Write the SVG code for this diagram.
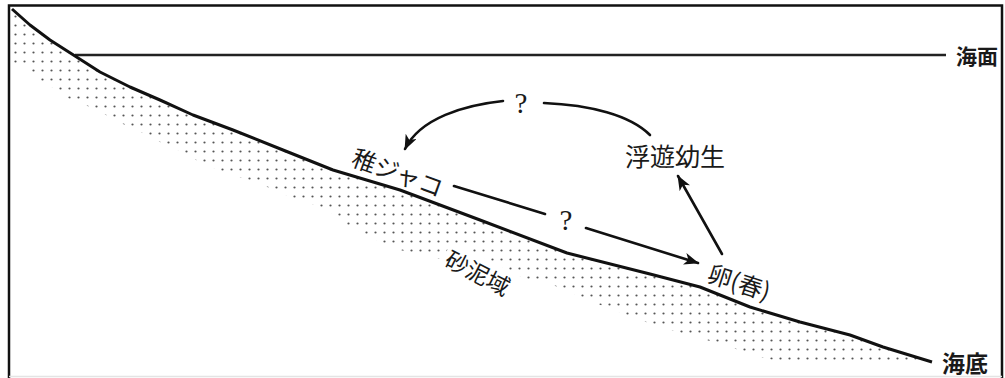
<svg xmlns="http://www.w3.org/2000/svg" width="1005" height="378" viewBox="0 0 1005 378">
<style>
.jp{font-family:"Noto Sans CJK JP","Noto Sans CJK SC",sans-serif;fill:#1a1a1a;}
.q{font-family:"Liberation Serif",serif;fill:#1a1a1a;font-size:29px;}
.conn{fill:none;stroke:#111;stroke-width:2.6;stroke-linecap:round;}
</style>
<defs>
<pattern id="dots" patternUnits="userSpaceOnUse" x="2" y="3" width="9" height="9">
<circle cx="4.5" cy="4.5" r="1.1" fill="#555"/>
</pattern>
<marker id="ah" markerUnits="userSpaceOnUse" markerWidth="16" markerHeight="12" refX="14" refY="6" orient="auto">
<path d="M0,0 L15,6 L0,12 L4,6 Z" fill="#111"/>
</marker>
</defs>
<rect x="0" y="0" width="1005" height="378" fill="#fff"/>
<g id="stipple">
<path fill="url(#dots)" d="M10,9 L12,9 L30,25 L50,40 L75,56 L100,72 L130,87 L160,100 L193,115 L233,130 L283,150 L333,170 L400,190 L480,220 L567,253 L650,274 L700,287 L750,307 L800,322 L850,335 L883,347 L932,362 L932,366 L800,366 L760,357 L733,348 L700,338 L667,329 L637,319 L590,301 L553,285 L480,268 L400,250 L378,241 L345,224 L335,215 L318,206 L290,197 L270,188 L245,179 L218,170 L198,161 L182,152 L162,143 L145,134 L125,125 L108,116 L90,107 L65,97 L55,89 L38,79 L28,69 L10,66 Z"/>
</g>
<g id="frame" fill="none">
<path d="M9,378 L9,5.5 L1002,5.5 L1002,378" stroke="#111" stroke-width="2.5"/>
<line x1="9" y1="376.5" x2="1002" y2="376.5" stroke="#e4e4e4" stroke-width="1.5"/>
</g>
<g id="sea-surface">
<line x1="75" y1="55" x2="946" y2="55" stroke="#222" stroke-width="2.4"/>
<text class="jp" x="956" y="64" font-size="21" font-weight="bold">海面</text>
</g>
<g id="sea-bottom">
<path d="M12,9 L30,25 L50,40 L75,56 L100,72 L130,87 L160,100 L193,115 L233,130 L283,150 L333,170 L400,190 L480,220 L567,253 L650,274 L700,287 L750,307 L800,322 L850,335 L883,347 L932,362" fill="none" stroke="#111" stroke-width="3" stroke-linejoin="round"/>
<text class="jp" x="942" y="372" font-size="23" font-weight="bold">海底</text>
</g>
<g id="sand-mud">
<rect x="440" y="240" width="86" height="30" fill="#fff" transform="rotate(27 443 265)"/>
<text class="jp" x="443" y="265" font-size="23" transform="rotate(27 443 265)">砂泥域</text>
</g>
<g id="juvenile">
<text class="jp" x="350" y="165" font-size="24" transform="rotate(20 350 165)">稚ジャコ</text>
</g>
<g id="larva">
<text class="jp" x="625" y="166" font-size="25">浮遊幼生</text>
</g>
<g id="egg">
<text class="jp" x="706" y="281" font-size="24" transform="rotate(18 706 281)">卵(春)</text>
</g>
<g id="q-top"><text class="q" x="521" y="113" text-anchor="middle">?</text></g>
<g id="q-mid"><text class="q" x="566" y="230" text-anchor="middle">?</text></g>
<g id="connectors">
<path class="conn" d="M503,101 C465,105 420,118 405,149" marker-end="url(#ah)"/>
<path class="conn" d="M544,103 C590,105 630,115 650,135"/>
<path class="conn" d="M454,186 L545,214"/>
<path class="conn" d="M586,228 L698,263" marker-end="url(#ah)"/>
<path class="conn" d="M722,254 L678,176" marker-end="url(#ah)"/>
</g>
</svg>
